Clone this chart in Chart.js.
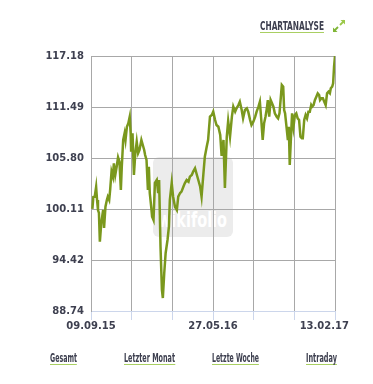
<!DOCTYPE html>
<html>
<head>
<meta charset="utf-8">
<script src="https://cdn.jsdelivr.net/npm/chart.js@4.4.1/dist/chart.umd.min.js"></script>
<style>
body { margin: 0; background: #fff; }
#wrap { position: relative; width: 373px; height: 384px; overflow: hidden; }
#chart { position: absolute; left: 0; top: 0; }
.fit {
    position: absolute;
    white-space: nowrap;
    transform-origin: 0 0;
    font-family: "Liberation Sans Narrow", "DejaVu Sans Condensed", "Liberation Sans", sans-serif;
    font-weight: bold;
    line-height: 1;
    color: #3e4050;
}
.link { font-size: 12px; border-bottom: 1px solid #a9cf62; }
#wm { position: absolute; left: 153px; top: 157px; width: 80px; height: 80px; background: #ececec; border-radius: 6px; }
#icon { position: absolute; left: 332px; top: 19px; }
</style>
</head>
<body>
<div id="wrap">
    <div id="wm"></div>
    <span class="fit" data-w="69" style="left:158px;top:209px;font-size:22px;color:#fff">wikifolio</span>
    <canvas id="chart" width="373" height="384"></canvas>
    <span class="fit link" data-w="64" style="left:260px;top:19px;font-size:13px">CHARTANALYSE</span>
    <svg id="icon" width="14" height="14" viewBox="0 0 14 14">
        <path d="M8 6 L12.5 1.5" stroke="#9cc84a" stroke-width="1.8"/>
        <polygon points="8.5,1 13,1 13,5.5" fill="#9cc84a"/>
        <path d="M1.5 12.5 L6 8" stroke="#7fb536" stroke-width="1.8"/>
        <polygon points="1,8.5 1,13 5.5,13" fill="#7fb536"/>
    </svg>
    <span class="fit link" data-w="27" style="left:50px;top:352px">Gesamt</span>
    <span class="fit link" data-w="51" style="left:124px;top:352px">Letzter Monat</span>
    <span class="fit link" data-w="47" style="left:212px;top:352px">Letzte Woche</span>
    <span class="fit link" data-w="31" style="left:306px;top:352px">Intraday</span>
</div>
<script>
// days since 09.09.15 and closing values
const days = [3,5,8,11,13,15,17,19,22,26,28,31,34,36,39,41,44,47,49,52,
    55,58,61,64,66,69,72,74,77,80,83,85,86,89,92,95,98,101,104,108,
    111,114,116,119,122,124,126,129,131,134,137,141,144,146,149,152,154,157,160,164,
    167,169,173,176,180,184,187,191,194,198,201,205,209,212,216,219,223,227,230,234,
    237,241,244,248,251,255,259,262,266,269,273,277,280,284,287,291,294,298,302,305,
    309,312,316,319,323,326,330,334,337,341,344,348,352,355,359,362,365,368,371,374,
    377,379,382,385,388,391,394,398,401,404,407,409,412,414,416,419,422,424,426,429,
    431,434,437,440,443,446,449,452,454,457,460,463,466,469,472,474,477,480,483,486,
    489,491,494,497,500,503,506,509,512,514,517,519,521,523]
const prices = [100.12,101.45,101.49,102.57,101.12,100.00,99.67,96.47,98.55,100.00,
    98.00,100.37,101.12,101.49,101.12,102.23,104.28,103.72,105.21,103.91,
    104.83,105.88,105.39,102.23,104.83,107.81,108.56,107.81,109.29,109.67,
    110.41,108.56,106.51,108.56,103.91,106.33,107.62,106.33,106.70,107.81,
    107.25,106.70,106.14,105.58,102.23,104.83,101.87,100.37,99.26,98.89,
    103.02,103.35,101.90,103.35,95.91,91.08,90.19,92.98,95.21,96.66,
    98.14,101.12,103.02,101.49,100.37,100.00,101.49,101.90,102.05,102.60,
    102.98,103.35,103.16,103.72,103.91,104.28,104.66,103.91,103.35,102.60,
    101.49,104.10,105.95,107.06,107.81,110.41,110.60,110.97,110.04,109.48,
    109.29,108.37,106.03,107.81,102.46,108.15,109.93,108.18,110.41,111.53,
    110.97,111.35,111.71,112.08,111.16,110.23,111.16,111.35,110.97,110.04,
    109.48,109.85,110.41,110.97,111.53,112.08,110.04,107.81,109.67,110.41,
    111.35,112.27,110.41,112.27,111.90,111.53,110.79,110.41,110.23,110.79,
    112.64,113.95,113.76,111.16,110.79,109.29,107.81,109.29,105.02,108.56,
    110.79,109.29,110.60,110.79,110.23,110.04,108.18,108.00,108.00,110.04,
    110.60,110.23,110.97,110.97,111.71,111.53,111.71,112.27,112.64,113.02,
    112.83,112.27,112.46,112.46,112.08,111.71,113.02,113.20,113.02,113.58,
    113.76,114.14,115.99,117.18]
const yTicks = [88.74, 94.42, 100.11, 105.80, 111.49, 117.18]
const xLabels = ['09.09.15', '', '', '27.05.16', '', '', '13.02.17']
const totalDays = 523

const gridGray = '#a8a8a8'
const axisBlue = '#ccd6eb'
const textColor = '#3e4050'

// fit condensed link texts to their width
document.querySelectorAll('.fit').forEach(el => {
    const w = el.getBoundingClientRect().width
    el.style.transform = 'scaleX(' + (+el.dataset.w / w) + ')'
})

// x labels drawn by hand so the last one can be pulled inside the frame
const xLabelPlugin = {
    id: 'xLabelPlugin',
    afterDraw(chart) {
        const ctx = chart.ctx
        const xs = chart.scales.x
        ctx.save()
        ctx.font = 'bold 10px "DejaVu Sans"'
        ctx.fillStyle = textColor
        ctx.textAlign = 'left'
        ctx.textBaseline = 'alphabetic'
        xs.ticks.forEach((t, i) => {
            const label = xLabels[i]
            if (!label) return
            const w = ctx.measureText(label).width
            let x = xs.getPixelForValue(t.value) - w / 2
            if (x + w > chart.width - 24) x = chart.width - 24 - w
            ctx.fillText(label, x, chart.chartArea.bottom + 18)
        })
        ctx.restore()
    }
}

const ctx = document.getElementById('chart').getContext('2d')
const myChart = new Chart(ctx, {
    type: 'line',
    data: {
        datasets: [{
            data: days.map((d, i) => ({ x: d, y: prices[i] })),
            borderColor: '#7a981d',
            borderWidth: 2.5,
            pointRadius: 0,
            tension: 0,
            fill: false
        }]
    },
    options: {
        responsive: false,
        animation: false,
        devicePixelRatio: 1,
        layout: { padding: { left: 0, right: 38, top: 56, bottom: 43 } },
        plugins: { legend: { display: false }, tooltip: { enabled: false } },
        scales: {
            x: {
                type: 'linear',
                min: 0,
                max: totalDays,
                afterBuildTicks: s => {
                    s.ticks = xLabels.map((l, i) => ({ value: i * totalDays / (xLabels.length - 1) }))
                },
                afterFit: s => { s.height = 30 },
                ticks: { display: false },
                grid: { color: gridGray, tickColor: axisBlue, tickLength: 9, drawTicks: true },
                border: { color: axisBlue }
            },
            y: {
                min: yTicks[0],
                max: yTicks[yTicks.length - 1],
                afterBuildTicks: s => { s.ticks = yTicks.map(v => ({ value: v })) },
                afterFit: s => { s.width = 91 },
                ticks: {
                    padding: 7,
                    color: textColor,
                    font: { family: 'DejaVu Sans', weight: 'bold', size: 10 },
                    callback: v => v.toFixed(2)
                },
                grid: {
                    drawTicks: false,
                    color: c => c.tick && c.tick.value === yTicks[0] ? 'rgba(0,0,0,0)' : gridGray
                },
                border: { color: gridGray }
            }
        }
    },
    plugins: [xLabelPlugin]
})
</script>
</body>
</html>
